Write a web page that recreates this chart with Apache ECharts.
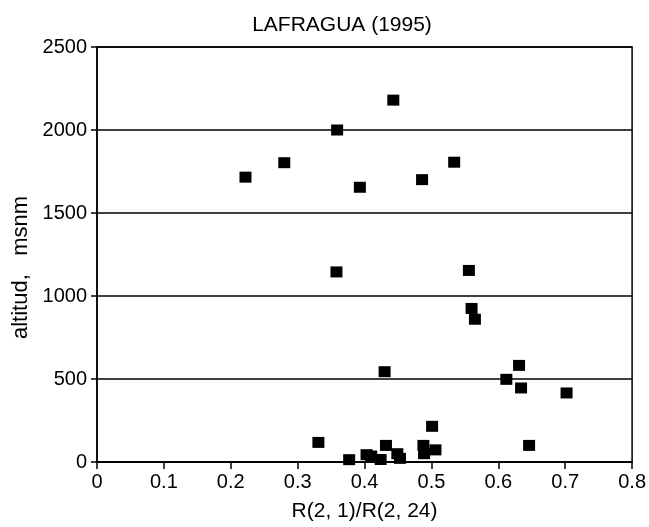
<!DOCTYPE html>
<html>
<head>
<meta charset="utf-8">
<script src="https://cdn.jsdelivr.net/npm/echarts@6/dist/echarts.min.js"></script>
<style>
html,body{margin:0;padding:0;background:#fff;}
#chart{width:649px;height:527px;}
</style>
</head>
<body>
<div id="chart"></div>
<script>
// Data
const ratioValues = [0.222, 0.280, 0.359, 0.393, 0.443, 0.486, 0.534, 0.358, 0.556, 0.560, 0.565,
  0.430, 0.631, 0.612, 0.634, 0.702, 0.331, 0.377, 0.403, 0.410, 0.424, 0.432, 0.449, 0.453,
  0.488, 0.489, 0.501, 0.506, 0.646];
const altitudeValues = [1716, 1803, 2000, 1655, 2180, 1701, 1806, 1145, 1154, 925, 860,
  544, 582, 498, 446, 416, 118, 14, 44, 36, 15, 100, 50, 22,
  100, 50, 215, 73, 100];
const titleText = 'LAFRAGUA (1995)';
const xAxisName = 'R(2, 1)/R(2, 24)';
const yAxisName = 'altitud,   msnm';

const points = ratioValues.map((x, i) => [x, altitudeValues[i]]);
const font = '"Liberation Sans", Arial, sans-serif';

const chart = echarts.init(document.getElementById('chart'));
chart.setOption({
  animation: false,
  backgroundColor: '#fff',
  title: {
    text: titleText,
    left: 337,
    textAlign: 'center',
    top: 10,
    textStyle: { fontFamily: font, fontSize: 21, fontWeight: 'normal', color: '#000' }
  },
  grid: {
    left: 97, right: 16, top: 47, bottom: 64,
    show: true, borderColor: '#000', borderWidth: 1.5, backgroundColor: 'transparent'
  },
  xAxis: {
    type: 'value', min: 0, max: 0.8, interval: 0.1,
    name: xAxisName, nameLocation: 'middle', nameGap: 39,
    nameTextStyle: { fontFamily: font, fontSize: 21, color: '#000' },
    axisLine: { lineStyle: { color: '#000', width: 1.5 } },
    axisTick: { inside: false, length: 7, lineStyle: { color: '#000', width: 1.5 } },
    axisLabel: { fontFamily: font, fontSize: 20, color: '#000', margin: 10,
      formatter: v => (v === 0 ? '0' : v.toFixed(1)) },
    splitLine: { show: false }
  },
  yAxis: {
    type: 'value', min: 0, max: 2500, interval: 500,
    name: yAxisName, nameLocation: 'middle', nameGap: 56,
    nameTextStyle: { fontFamily: font, fontSize: 22, color: '#000', padding: [0, 26, 0, 0] },
    axisLine: { lineStyle: { color: '#000', width: 1.5 } },
    axisTick: { inside: false, length: 6, lineStyle: { color: '#000', width: 1.5 } },
    axisLabel: { fontFamily: font, fontSize: 20, color: '#000', margin: 10,
      formatter: v => String(v) },
    splitLine: { show: true, lineStyle: { color: '#000', width: 1.5 } }
  },
  series: [{
    type: 'scatter',
    data: points,
    symbol: 'rect',
    symbolSize: [12, 11],
    itemStyle: { color: '#000', opacity: 1 }
  }]
});
</script>
</body>
</html>
